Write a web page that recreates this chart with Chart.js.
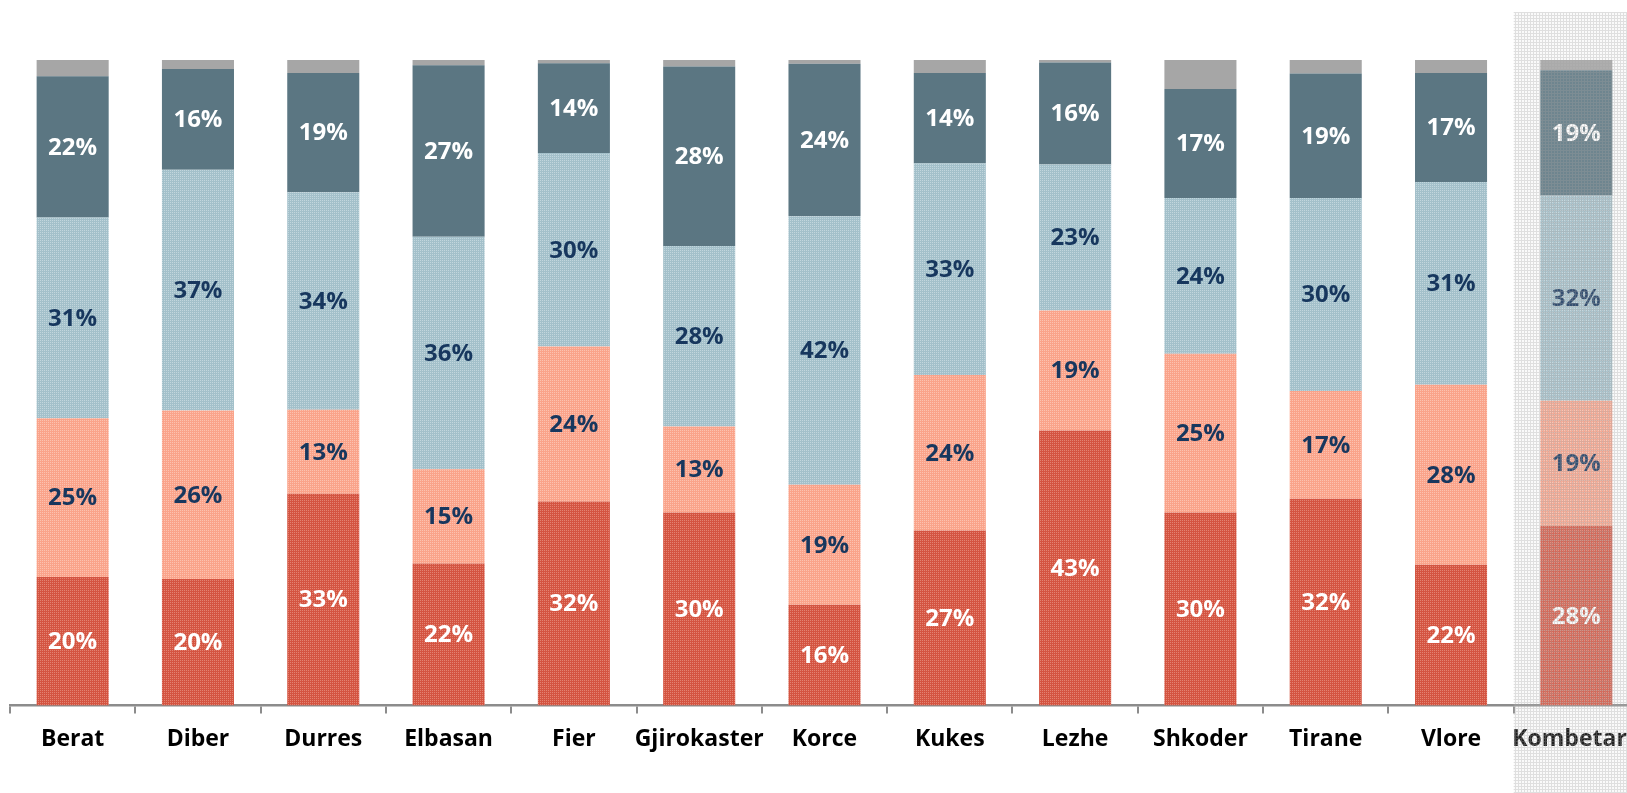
<!DOCTYPE html>
<html>
<head>
<meta charset="utf-8">
<script src="https://cdn.jsdelivr.net/npm/chart.js@4/dist/chart.umd.min.js"></script>
<style>
  html, body { margin: 0; padding: 0; background: #ffffff; overflow: hidden; }
  #wrap { position: relative; width: 1659px; height: 793px; }
</style>
</head>
<body>
<div id="wrap"><canvas id="regionChart"></canvas></div>
<script>
// Regions along the axis, last one is the national total
const categories = ['Berat', 'Diber', 'Durres', 'Elbasan', 'Fier', 'Gjirokaster', 'Korce', 'Kukes', 'Lezhe', 'Shkoder', 'Tirane', 'Vlore', 'Kombetare'];

// Shares per region (percent), bottom to top
const redShare   = [19.9, 19.6, 32.8, 22.0, 31.6, 29.9, 15.6, 27.1, 42.6, 29.9, 32.0, 21.8, 27.8];
const pinkShare  = [24.6, 26.1, 13.0, 14.6, 24.0, 13.3, 18.6, 24.1, 18.6, 24.6, 16.7, 27.9, 19.4];
const blueShare  = [31.1, 37.3, 33.7, 36.0, 30.0, 28.0, 41.6, 32.8, 22.6, 24.1, 29.9, 31.4, 31.8];
const darkShare  = [21.9, 15.6, 18.5, 26.6, 13.9, 27.8, 23.6, 14.0, 15.8, 16.9, 19.3, 16.9, 19.4];
const grayShare  = [2.5, 1.4, 2.0, 0.8, 0.5, 1.0, 0.6, 2.0, 0.4, 4.5, 2.1, 2.0, 1.6];

const NAVY = '#17375e';
const FONT_FAMILY = '"Open Sans", "DejaVu Sans", sans-serif';
const LABEL_FONT = '700 24px ' + FONT_FAMILY;

// small dotted tile used as a fill texture
function dotPattern(base, dot) {
    const c = document.createElement('canvas');
    c.width = 4; c.height = 4;
    const g = c.getContext('2d');
    g.fillStyle = base;
    g.fillRect(0, 0, 4, 4);
    g.fillStyle = dot;
    g.fillRect(0, 0, 1, 1);
    g.fillRect(2, 2, 1, 1);
    g.fillRect(2, 0, 1, 1);
    g.fillRect(0, 2, 1, 1);
    return g.createPattern(c, 'repeat');
}

const redFill  = dotPattern('#d45441', '#e38372');
const pinkFill = dotPattern('#faa38a', '#fcc2b0');
const blueFill = dotPattern('#a3c0ca', '#c2d6dd');

// percent labels centred in each segment
const segmentLabels = {
    id: 'segmentLabels',
    afterDatasetsDraw(chart) {
        const ctx = chart.ctx;
        ctx.save();
        ctx.font = LABEL_FONT;
        ctx.textAlign = 'center';
        ctx.textBaseline = 'middle';
        chart.data.datasets.forEach((ds, i) => {
            if (!ds.labelColor) return;
            const meta = chart.getDatasetMeta(i);
            meta.data.forEach((bar, j) => {
                ctx.fillStyle = ds.labelColor;
                ctx.fillText(Math.round(ds.data[j]) + '%', bar.x, (bar.y + bar.base) / 2 + 1);
            });
        });
        ctx.restore();
    }
};

// grey dotted screen over the national total column (x axis is drawn on top of it)
const totalShade = {
    id: 'totalShade',
    afterDatasetsDraw(chart) {
        const x = chart.scales.x;
        const step = x.width / categories.length;
        const left = x.getPixelForValue(categories.length - 1) - step / 2;
        const c = document.createElement('canvas');
        c.width = 3; c.height = 3;
        const g = c.getContext('2d');
        g.fillStyle = 'rgba(220,220,220,0.15)';
        g.fillRect(0, 0, 3, 3);
        g.fillStyle = 'rgba(160,160,160,0.3)';
        g.fillRect(0, 0, 3, 1);
        g.fillRect(0, 1, 1, 2);
        const ctx = chart.ctx;
        ctx.save();
        ctx.fillStyle = ctx.createPattern(c, 'repeat');
        ctx.fillRect(left, 12, chart.width - left, chart.height - 12);
        ctx.restore();
    }
};

const ctx = document.getElementById('regionChart').getContext('2d');
new Chart(ctx, {
    type: 'bar',
    data: {
        labels: categories,
        datasets: [
            { data: redShare,  backgroundColor: redFill,  labelColor: '#ffffff' },
            { data: pinkShare, backgroundColor: pinkFill, labelColor: NAVY },
            { data: blueShare, backgroundColor: blueFill, labelColor: NAVY },
            { data: darkShare, backgroundColor: '#5b7682', labelColor: '#ffffff' },
            { data: grayShare, backgroundColor: '#a6a6a6' }
        ]
    },
    options: {
        responsive: true,
        maintainAspectRatio: false,
        animation: false,
        layout: { padding: { top: 60, left: 10, right: 20, bottom: 28 } },
        datasets: {
            bar: { categoryPercentage: 1, barPercentage: 0.575, borderWidth: 0 }
        },
        plugins: {
            legend: { display: false },
            tooltip: { enabled: false }
        },
        scales: {
            x: {
                stacked: true,
                z: 1,
                border: { display: true, color: '#8c8c8c', width: 2.5 },
                grid: { offset: true, drawOnChartArea: false, drawTicks: true, tickLength: 8, color: '#8c8c8c', lineWidth: 2 },
                ticks: {
                    color: '#000000',
                    padding: 12,
                    autoSkip: false,
                    maxRotation: 0,
                    minRotation: 0,
                    font: { family: FONT_FAMILY, size: 23, weight: '700' }
                }
            },
            y: {
                stacked: true,
                display: false,
                min: 0,
                max: 100
            }
        }
    },
    plugins: [segmentLabels, totalShade]
});
</script>
</body>
</html>
